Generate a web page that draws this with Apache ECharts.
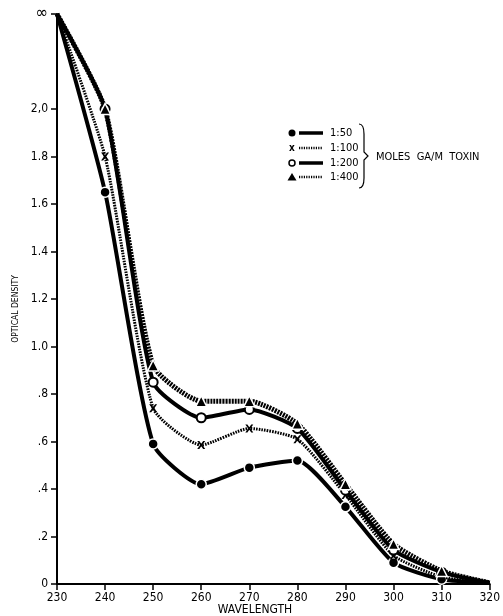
<!DOCTYPE html>
<html>
<head>
<meta charset="utf-8">
<script src="https://cdn.jsdelivr.net/npm/echarts@6/dist/echarts.min.js"></script>
<style>
html,body{margin:0;padding:0;background:#fff;}
#c{width:503px;height:616px;}
</style>
</head>
<body>
<div id="c"></div>
<script>
var wavelength = [230, 240, 250, 260, 270, 280, 290, 300, 310, 320];
var od_1_50  = [2.4, 1.65, 0.59, 0.42, 0.49, 0.52, 0.325, 0.09, 0.02, 0.005];
var od_1_100 = [2.4, 1.80, 0.74, 0.585, 0.655, 0.61, 0.375, 0.12, 0.03, 0.005];
var od_1_200 = [2.4, 2.0, 0.85, 0.70, 0.735, 0.655, 0.395, 0.143, 0.05, 0.005];
var od_1_400 = [2.4, 2.0, 0.92, 0.77, 0.77, 0.675, 0.42, 0.168, 0.055, 0.005];
var seriesNames = ['1:50', '1:100', '1:200', '1:400'];
var yTickValues = [0, 0.2, 0.4, 0.6, 0.8, 1.0, 1.2, 1.4, 1.6, 1.8, 2.0, 2.4];
var yTickLabels = ['0', '.2', '.4', '.6', '.8', '1.0', '1.2', '1.4', '1.6', '1.8', '2,0', '\u221E'];
var legendNote = 'MOLES  GA/M  TOXIN';
var xTitle = 'WAVELENGTH';
var yTitle = 'OPTICAL DENSITY';

var FONT = '"DejaVu Sans Condensed", "DejaVu Sans", sans-serif';
var xMark = 'path://M0,0 L2.6,0 L5,3.4 L7.4,0 L10,0 L6.4,5 L10,10 L7.4,10 L5,6.6 L2.6,10 L0,10 L3.6,5 Z';

var styles = [
  {data: od_1_50, symbol: 'circle', size: 10, width: 4, type: 'solid'},
  {data: od_1_100, symbol: xMark, size: 8, width: 3, type: [1.6, 1.1]},
  {data: od_1_200, symbol: 'emptyCircle', size: 9, width: 4, type: 'solid'},
  {data: od_1_400, symbol: 'triangle', size: 11, width: 5, type: [2, 1]}
];

function pairs(ys) {
  return wavelength.map(function (x, i) {
    var item = {value: [x, ys[i]]};
    if (i === 0 || i === wavelength.length - 1) item.symbol = 'none';
    return item;
  });
}

var series = styles.map(function (st, k) {
  var itemStyle;
  if (st.symbol === 'emptyCircle') itemStyle = {color: '#000', borderColor: '#000', borderWidth: 2};
  else if (st.symbol === xMark) itemStyle = {color: '#000', borderWidth: 0};
  else itemStyle = {color: '#000', borderColor: '#fff', borderWidth: 1.5};
  return {
    name: seriesNames[k],
    type: 'line',
    smooth: 0.19,
    data: pairs(st.data),
    symbol: st.symbol,
    symbolSize: st.size,
    showAllSymbol: true,
    z: 2 + k,
    lineStyle: {color: '#000', width: st.width, type: st.type, cap: 'butt'},
    itemStyle: itemStyle,
    emphasis: {disabled: true}
  };
});

var chart = echarts.init(document.getElementById('c'), null, {renderer: 'canvas'});

var legendGraphics = [];
var rowY = [133, 148, 163, 177];
styles.forEach(function (st, k) {
  var y = rowY[k];
  var sym;
  if (st.symbol === 'circle') {
    sym = {type: 'circle', shape: {cx: 292, cy: y, r: 3.5}, style: {fill: '#000'}};
  } else if (st.symbol === 'emptyCircle') {
    sym = {type: 'circle', shape: {cx: 292, cy: y, r: 3}, style: {fill: '#fff', stroke: '#000', lineWidth: 1.5}};
  } else if (st.symbol === 'triangle') {
    sym = {type: 'polygon', shape: {points: [[292, y - 4], [296.5, y + 3.5], [287.5, y + 3.5]]}, style: {fill: '#000'}};
  } else {
    sym = {type: 'text', style: {text: 'x', x: 292, y: y, align: 'center', verticalAlign: 'middle', font: 'bold 10px ' + FONT, fill: '#000'}};
  }
  legendGraphics.push(sym);
  legendGraphics.push({
    type: 'line',
    shape: {x1: 299, y1: y, x2: 323, y2: y},
    style: {stroke: '#000', lineWidth: st.type === 'solid' ? 3.5 : 2.5, lineDash: st.type === 'solid' ? null : [1.2, 1.2]}
  });
  legendGraphics.push({
    type: 'text',
    style: {text: seriesNames[k], x: 330, y: y, verticalAlign: 'middle', font: '11px ' + FONT, fill: '#000'}
  });
});
legendGraphics.push({
  type: 'bezierCurve',
  shape: {x1: 359, y1: 124, x2: 364, y2: 134, cpx1: 364, cpy1: 124},
  style: {stroke: '#000', lineWidth: 1.2, fill: null}
});
legendGraphics.push({
  type: 'polyline',
  shape: {points: [[364, 134], [364, 152], [368, 156], [364, 160], [364, 178]]},
  style: {stroke: '#000', lineWidth: 1.2, fill: null}
});
legendGraphics.push({
  type: 'bezierCurve',
  shape: {x1: 364, y1: 178, x2: 359, y2: 188, cpx1: 364, cpy1: 188},
  style: {stroke: '#000', lineWidth: 1.2, fill: null}
});
legendGraphics.push({
  type: 'text',
  style: {text: legendNote, x: 376, y: 157, verticalAlign: 'middle', font: '11px ' + FONT, fill: '#000'}
});
legendGraphics.push({
  type: 'text', x: 255, y: 610,
  style: {text: xTitle, align: 'center', verticalAlign: 'middle', font: '12px ' + FONT, fill: '#000'}
});
legendGraphics.push({
  type: 'text', x: 16, y: 309, rotation: Math.PI / 2,
  style: {text: yTitle, align: 'center', verticalAlign: 'middle', font: '8.5px ' + FONT, fill: '#000'}
});

chart.setOption({
  animation: false,
  backgroundColor: '#fff',
  grid: {left: 57, right: 13, top: 14, bottom: 32, containLabel: false},
  xAxis: {
    type: 'value', min: 230, max: 320, interval: 10,
    axisLine: {lineStyle: {color: '#000', width: 2}},
    axisTick: {show: true, length: 6, lineStyle: {color: '#000', width: 1.5}},
    axisLabel: {fontFamily: FONT, fontSize: 12, color: '#000', margin: 8},
    splitLine: {show: false}
  },
  yAxis: {
    type: 'value', min: 0, max: 2.4, interval: 0.2,
    axisLine: {show: true, lineStyle: {color: '#000', width: 2}},
    axisTick: {show: true, length: 6, customValues: yTickValues, lineStyle: {color: '#000', width: 1.5}},
    axisLabel: {
      fontFamily: FONT, fontSize: 12, color: '#000', margin: 9,
      customValues: yTickValues,
      rich: {inf: {fontSize: 17, fontFamily: FONT, color: '#000'}},
      formatter: function (v) {
        for (var i = 0; i < yTickValues.length; i++) {
          if (Math.abs(yTickValues[i] - v) < 1e-6) {
            return yTickLabels[i] === '\u221E' ? '{inf|' + yTickLabels[i] + '}' : yTickLabels[i];
          }
        }
        return '';
      }
    },
    splitLine: {show: false}
  },
  series: series,
  graphic: legendGraphics
});
</script>
</body>
</html>
